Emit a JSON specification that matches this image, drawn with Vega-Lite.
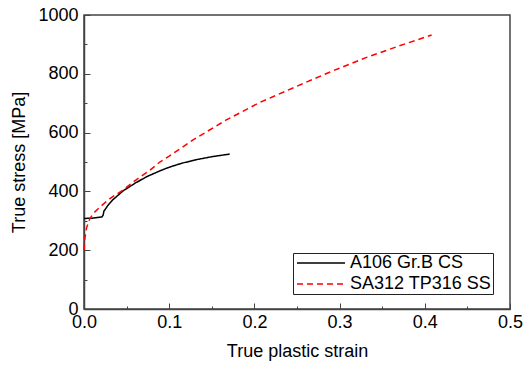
{
  "$schema": "https://vega.github.io/schema/vega-lite/v6.json",
  "width": 426,
  "height": 294,
  "autosize": {"type": "none"},
  "padding": {"left": 84, "top": 15, "right": 15, "bottom": 59},
  "background": "white",
  "config": {
    "view": {"stroke": "#444", "strokeWidth": 1.5},
    "font": "Liberation Sans",
    "axis": {
      "grid": false,
      "domainColor": "#444",
      "domainWidth": 1.5,
      "tickColor": "#444",
      "tickWidth": 1,
      "labelColor": "black",
      "titleColor": "black",
      "labelFont": "Liberation Sans",
      "titleFont": "Liberation Sans",
      "labelFontSize": 18,
      "titleFontSize": 18,
      "titleFontWeight": "normal"
    }
  },
  "data": {
    "values": [
      {"series": "A106 Gr.B CS", "strain": 0.0, "stress": 308},
      {"series": "A106 Gr.B CS", "strain": 0.01, "stress": 309},
      {"series": "A106 Gr.B CS", "strain": 0.021, "stress": 313},
      {"series": "A106 Gr.B CS", "strain": 0.0225, "stress": 320},
      {"series": "A106 Gr.B CS", "strain": 0.0234, "stress": 333},
      {"series": "A106 Gr.B CS", "strain": 0.028, "stress": 352},
      {"series": "A106 Gr.B CS", "strain": 0.0344, "stress": 373},
      {"series": "A106 Gr.B CS", "strain": 0.046, "stress": 402},
      {"series": "A106 Gr.B CS", "strain": 0.06, "stress": 428},
      {"series": "A106 Gr.B CS", "strain": 0.0735, "stress": 450},
      {"series": "A106 Gr.B CS", "strain": 0.09, "stress": 471},
      {"series": "A106 Gr.B CS", "strain": 0.1008, "stress": 483},
      {"series": "A106 Gr.B CS", "strain": 0.115, "stress": 496},
      {"series": "A106 Gr.B CS", "strain": 0.132, "stress": 508},
      {"series": "A106 Gr.B CS", "strain": 0.15, "stress": 518},
      {"series": "A106 Gr.B CS", "strain": 0.171, "stress": 527},
      {"series": "SA312 TP316 SS", "strain": 0.0, "stress": 200},
      {"series": "SA312 TP316 SS", "strain": 0.001, "stress": 240},
      {"series": "SA312 TP316 SS", "strain": 0.003, "stress": 276},
      {"series": "SA312 TP316 SS", "strain": 0.007, "stress": 308},
      {"series": "SA312 TP316 SS", "strain": 0.012, "stress": 328},
      {"series": "SA312 TP316 SS", "strain": 0.02, "stress": 350},
      {"series": "SA312 TP316 SS", "strain": 0.03, "stress": 375},
      {"series": "SA312 TP316 SS", "strain": 0.046, "stress": 405},
      {"series": "SA312 TP316 SS", "strain": 0.06, "stress": 437},
      {"series": "SA312 TP316 SS", "strain": 0.0774, "stress": 472},
      {"series": "SA312 TP316 SS", "strain": 0.089, "stress": 500},
      {"series": "SA312 TP316 SS", "strain": 0.1, "stress": 520},
      {"series": "SA312 TP316 SS", "strain": 0.128, "stress": 575},
      {"series": "SA312 TP316 SS", "strain": 0.167, "stress": 643},
      {"series": "SA312 TP316 SS", "strain": 0.206, "stress": 702},
      {"series": "SA312 TP316 SS", "strain": 0.25, "stress": 758},
      {"series": "SA312 TP316 SS", "strain": 0.292, "stress": 810},
      {"series": "SA312 TP316 SS", "strain": 0.331, "stress": 855},
      {"series": "SA312 TP316 SS", "strain": 0.37, "stress": 895},
      {"series": "SA312 TP316 SS", "strain": 0.408, "stress": 932}
    ]
  },
  "mark": {"type": "line", "strokeWidth": 1.5},
  "encoding": {
    "x": {
      "field": "strain",
      "type": "quantitative",
      "scale": {"domain": [0, 0.5], "nice": false},
      "axis": {
        "title": "True plastic strain",
        "values": [0, 0.05, 0.1, 0.15, 0.2, 0.25, 0.3, 0.35, 0.4, 0.45, 0.5],
        "labelExpr": "abs(datum.value*10 - round(datum.value*10)) < 0.000001 ? format(datum.value, '.1f') : ''",
        "labelFlush": false,
        "labelOverlap": false,
        "tickSize": {"condition": {"test": "abs(datum.value*10 - round(datum.value*10)) < 0.000001", "value": -6}, "value": -3},
        "labelPadding": 10,
        "titlePadding": 8
      }
    },
    "y": {
      "field": "stress",
      "type": "quantitative",
      "scale": {"domain": [0, 1000], "nice": false},
      "axis": {
        "title": "True stress [MPa]",
        "values": [0, 100, 200, 300, 400, 500, 600, 700, 800, 900, 1000],
        "labelExpr": "datum.value % 200 === 0 ? format(datum.value, 'd') : ''",
        "labelOverlap": false,
        "tickSize": {"condition": {"test": "datum.value % 200 === 0", "value": -6}, "value": -3},
        "labelPadding": 12,
        "titlePadding": 9
      }
    },
    "color": {
      "field": "series",
      "type": "nominal",
      "scale": {"domain": ["A106 Gr.B CS", "SA312 TP316 SS"], "range": ["#000000", "#ff0000"]},
      "legend": {
        "title": null,
        "orient": "none",
        "legendX": 209,
        "legendY": 238,
        "strokeColor": "#222",
        "padding": 1,
        "symbolType": "M-1,0H7",
        "symbolSize": 144,
        "symbolStrokeWidth": 1.5,
        "symbolFillColor": "transparent",
        "labelFontSize": 18,
        "labelFont": "Liberation Sans",
        "labelColor": "black",
        "labelOffset": 38,
        "rowPadding": 3,
        "fillColor": "white"
      }
    },
    "strokeDash": {
      "field": "series",
      "type": "nominal",
      "scale": {"domain": ["A106 Gr.B CS", "SA312 TP316 SS"], "range": [[1, 0], [6, 4]]},
      "legend": {
        "title": null,
        "orient": "none",
        "legendX": 209,
        "legendY": 238
      }
    }
  }
}
